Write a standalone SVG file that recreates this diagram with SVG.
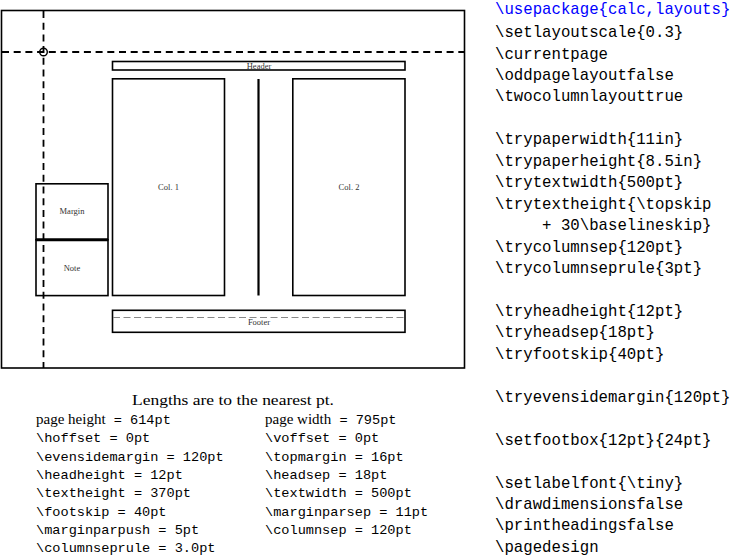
<svg xmlns="http://www.w3.org/2000/svg" width="732" height="557" viewBox="0 0 732 557">
<style>
.box{fill:none;stroke:#000;stroke-width:1.6}
.dash{fill:none;stroke:#000;stroke-width:1.8;stroke-dasharray:7 4.7}
.lbl{font-family:"Liberation Serif",serif;font-size:8.5px;fill:#333;text-anchor:middle}
.serif{font-family:"Liberation Serif",serif;font-size:15px;fill:#000}
.mono{font-family:"Liberation Mono",monospace;font-size:13.6px;fill:#000}
.code{font-family:"Liberation Mono",monospace;font-size:15.7px;fill:#000}
</style>
<rect width="732" height="557" fill="#fff"/>
<g id="page">
<rect class="box" x="1.5" y="10.5" width="463" height="357.5"/>
</g>
<g id="connectors">
<line class="dash" x1="2" y1="52" x2="464" y2="52"/>
<line class="dash" x1="43.5" y1="11" x2="43.5" y2="368"/>
<circle cx="43.5" cy="52" r="3.8" fill="none" stroke="#000" stroke-width="1.4"/>
</g>
<g id="header">
<rect class="box" x="112.5" y="61.5" width="292.5" height="8.5"/>
<text class="lbl" x="259" y="68.5">Header</text>
</g>
<g id="col1">
<rect class="box" x="112.5" y="78.8" width="112" height="216.7"/>
<text class="lbl" x="168.5" y="190">Col. 1</text>
</g>
<g id="colrule">
<line x1="258.5" y1="79" x2="258.5" y2="295.5" stroke="#000" stroke-width="2.2"/>
</g>
<g id="col2">
<rect class="box" x="292.8" y="78.8" width="112.2" height="216.7"/>
<text class="lbl" x="349" y="190">Col. 2</text>
</g>
<g id="margin">
<rect class="box" x="36" y="183.8" width="72" height="56"/>
<text class="lbl" x="72" y="213.5">Margin</text>
</g>
<g id="note">
<rect class="box" x="36" y="239.8" width="72" height="55.8"/>
<line x1="36" y1="239.8" x2="108" y2="239.8" stroke="#000" stroke-width="3"/>
<text class="lbl" x="72" y="270.5">Note</text>
</g>
<g id="footer">
<rect class="box" x="112.5" y="310.3" width="292.5" height="22"/>
<line x1="113" y1="317.5" x2="404.5" y2="317.5" stroke="#888" stroke-width="1" stroke-dasharray="7 3.5"/>
<text class="lbl" x="259" y="325">Footer</text>
</g>
<g id="lengths">
<text class="serif" x="233" y="405" text-anchor="middle" font-size="16" textLength="202" lengthAdjust="spacingAndGlyphs">Lengths are to the nearest pt.</text>
<text x="36" y="424"><tspan class="serif">page height</tspan><tspan class="mono"> = 614pt</tspan></text>
<text class="mono" x="36" y="442.3">\hoffset = 0pt</text>
<text class="mono" x="36" y="460.7">\evensidemargin = 120pt</text>
<text class="mono" x="36" y="479">\headheight = 12pt</text>
<text class="mono" x="36" y="497.3">\textheight = 370pt</text>
<text class="mono" x="36" y="515.7">\footskip = 40pt</text>
<text class="mono" x="36" y="534">\marginparpush = 5pt</text>
<text class="mono" x="36" y="552.3">\columnseprule = 3.0pt</text>
<text x="265" y="424"><tspan class="serif">page width</tspan><tspan class="mono"> = 795pt</tspan></text>
<text class="mono" x="265" y="442.3">\voffset = 0pt</text>
<text class="mono" x="265" y="460.7">\topmargin = 16pt</text>
<text class="mono" x="265" y="479">\headsep = 18pt</text>
<text class="mono" x="265" y="497.3">\textwidth = 500pt</text>
<text class="mono" x="265" y="515.7">\marginparsep = 11pt</text>
<text class="mono" x="265" y="534">\columnsep = 120pt</text>
</g>
<g id="code">
<text class="code" x="495" y="14" fill="#0000ff" style="fill:#0000ff">\usepackage{calc,layouts}</text>
<text class="code" x="495" y="37">\setlayoutscale{0.3}</text>
<text class="code" x="495" y="58.5">\currentpage</text>
<text class="code" x="495" y="79.9">\oddpagelayoutfalse</text>
<text class="code" x="495" y="101.4">\twocolumnlayouttrue</text>
<text class="code" x="495" y="144.3">\trypaperwidth{11in}</text>
<text class="code" x="495" y="165.7">\trypaperheight{8.5in}</text>
<text class="code" x="495" y="187.2">\trytextwidth{500pt}</text>
<text class="code" x="495" y="208.6">\trytextheight{\topskip</text>
<text class="code" x="495" y="230.1" xml:space="preserve">     + 30\baselineskip}</text>
<text class="code" x="495" y="251.5">\trycolumnsep{120pt}</text>
<text class="code" x="495" y="273">\trycolumnseprule{3pt}</text>
<text class="code" x="495" y="315.9">\tryheadheight{12pt}</text>
<text class="code" x="495" y="337.3">\tryheadsep{18pt}</text>
<text class="code" x="495" y="358.8">\tryfootskip{40pt}</text>
<text class="code" x="495" y="401.7">\tryevensidemargin{120pt}</text>
<text class="code" x="495" y="444.6">\setfootbox{12pt}{24pt}</text>
<text class="code" x="495" y="487.5">\setlabelfont{\tiny}</text>
<text class="code" x="495" y="508.9">\drawdimensionsfalse</text>
<text class="code" x="495" y="530.4">\printheadingsfalse</text>
<text class="code" x="495" y="551.8">\pagedesign</text>
</g>
</svg>
